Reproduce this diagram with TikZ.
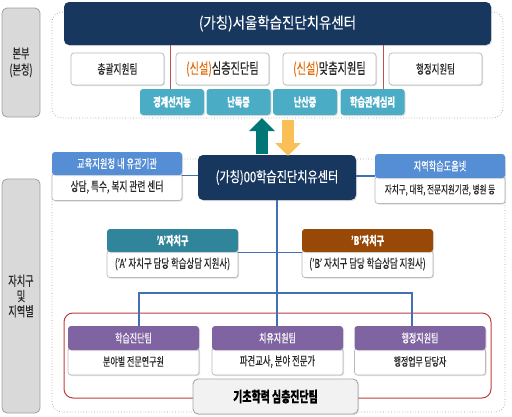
\documentclass[tikz,border=0pt]{standalone}
\usepackage{fontspec}
\setmainfont{Noto Sans CJK KR}[FakeStretch=0.68,FakeBold=0.35]
\newfontfamily\widefont{Noto Sans CJK KR}[FakeStretch=0.86,FakeBold=0.2]
\newfontfamily\midfont{Noto Sans CJK KR}[FakeStretch=0.77,FakeBold=0.3]
\usetikzlibrary{arrows.meta,shadows}
\definecolor{navy}{RGB}{24,55,95}
\definecolor{tealbtn}{RGB}{75,172,198}
\definecolor{hdrblue}{RGB}{85,142,213}
\definecolor{ateal}{RGB}{49,133,155}
\definecolor{bbrown}{RGB}{152,72,7}
\definecolor{purp}{RGB}{128,100,162}
\definecolor{uparr}{RGB}{0,118,118}
\definecolor{yel}{RGB}{250,192,85}
\definecolor{orng}{RGB}{228,108,10}
\definecolor{redln}{RGB}{192,80,77}
\definecolor{redrect}{RGB}{192,60,60}
\definecolor{connblue}{RGB}{65,113,180}
\definecolor{lblfill}{RGB}{217,217,217}
\definecolor{lbldraw}{RGB}{160,160,160}
\definecolor{txt}{RGB}{40,40,40}
\newcommand{\fs}[1]{\fontsize{#1}{#1}\selectfont}
\tikzset{
  shad/.style={drop shadow={opacity=0.25,shadow xshift=1pt,shadow yshift=-1pt}},
  region/.style={draw=gray!75,dotted,line width=0.7pt,rounded corners=10pt},
  lbl/.style={draw=lbldraw,fill=lblfill,rounded corners=5pt,line width=0.8pt,text=txt,align=center,inner sep=0pt},
  navybox/.style={fill=navy,rounded corners=5pt,text=white,inner sep=0pt,shad},
  wbox/.style={draw=gray!55,fill=white,rounded corners=3pt,line width=0.7pt,text=txt,inner sep=0pt,shad},
  btn/.style={fill=tealbtn,rounded corners=3pt,text=white,inner sep=0pt,minimum width=64,minimum height=26,font=\fs{12}\bfseries,shad},
  hdr/.style={fill=#1,rounded corners=3pt,text=white,inner sep=0pt,minimum height=23,shad},
  conn/.style={draw=connblue,line width=1.1pt},
  rline/.style={draw=redln,line width=0.9pt},
}
\begin{document}
\begin{tikzpicture}[x=1pt,y=-1pt]
\useasboundingbox (0,0) rectangle (512,416);
% regions
\draw[region] (52,12) rectangle (503,118);
\draw[region] (52,159) rectangle (505,412);
\draw[draw=redrect,line width=1pt,rounded corners=9pt] (64,313) rectangle (491,398);
% left labels
\node[lbl,minimum width=38,minimum height=109] (hq) at (21,62.5) {\fs{13.5}본부\\[3pt]\fs{13.5}(본청)};
\node[lbl,minimum width=38,minimum height=234] (loc) at (21,296) {\fs{13.5}자치구\\[2pt]\fs{13.5}및\\[2pt]\fs{13.5}지역별};
% top
\node[navybox,minimum width=427,minimum height=43] (top) at (277.5,23.5) {\widefont\fs{15.6}(가칭)서울학습진단치유센터};
\node[wbox,minimum width=93,minimum height=32] (t1) at (117.5,69) {\fs{12.8}총괄지원팀};
\node[wbox,minimum width=93,minimum height=32] (t2) at (222.5,69) {\fs{15}\textcolor{orng}{(신설)}심층진단팀};
\node[wbox,minimum width=93,minimum height=32] (t3) at (329.5,69) {\fs{15}\textcolor{orng}{(신설)}맞춤지원팀};
\node[wbox,minimum width=93,minimum height=32] (t4) at (435.5,69) {\fs{12.4}행정지원팀};
\coordinate (r1a) at (170,45); \coordinate (r1b) at (170,89);
\coordinate (r2a) at (383,45); \coordinate (r2b) at (383,89);
\draw[rline] (r1a) -- (r1b);
\draw[rline] (r2a) -- (r2b);
\node[btn] (b1) at (172,102) {경계선지능};
\node[btn] (b2) at (238.5,102) {난독증};
\node[btn] (b3) at (305,102) {난산증};
\node[btn] (b4) at (372.5,102) {학습관계심리};
% center
\node[navybox,minimum width=158,minimum height=45] (ctr) at (277,177.5) {\midfont\fs{14.5}(가칭)00학습진단치유센터};
\coordinate (upS) at (262,154); \coordinate (upE) at (262,118);
\coordinate (dnS) at (288,120); \coordinate (dnE) at (288,156);
\draw[draw=uparr,line width=12.5pt,-{Triangle[width=25pt,length=13pt]}] (upS) -- (upE);
\draw[draw=yel,line width=12.5pt,-{Triangle[width=25pt,length=13pt]}] (dnS) -- (dnE);
% side boxes
\node[wbox,minimum width=130,minimum height=27] (lw) at (117,187) {\fs{12.8}상담, 특수, 복지 관련 센터};
\node[hdr=hdrblue,minimum width=130] (lh) at (117,163.5) {\fs{12.2}교육지원청 내 유관기관};
\node[wbox,minimum width=130,minimum height=27] (rw) at (440,190) {\fs{11.1}자치구, 대학, 전문지원기관, 병원 등};
\node[hdr=hdrblue,minimum width=130,minimum height=24] (rh) at (440,166) {\fs{12}지역학습도움넷};
\draw[conn] (lh.south east) -- (lh.south east -| ctr.west);
\draw[conn] ([yshift=-10pt]rh.west) -- ([yshift=-10pt]rh.west -| ctr.east);
% districts
\node[wbox,minimum width=131,minimum height=27] (aw) at (172.5,264) {\fs{12.4}('A' 자치구 담당 학습상담 지원사)};
\node[hdr=ateal,minimum width=131] (ah) at (172.5,240.5) {\fs{11.8}\bfseries 'A'자치구};
\node[wbox,minimum width=131,minimum height=27] (bw) at (367.5,264) {\fs{12.4}('B' 자치구 담당 학습상담 지원사)};
\node[hdr=bbrown,minimum width=131] (bh) at (367.5,240.5) {\fs{11.8}\bfseries 'B'자치구};
% teams
\node[wbox,minimum width=131,minimum height=27] (s1w) at (133.5,361.5) {\fs{11.8}분야별 전문연구원};
\node[hdr=purp,minimum width=131,minimum height=24] (s1h) at (133.5,338) {\fs{11.8}학습진단팀};
\node[wbox,minimum width=131,minimum height=27] (s2w) at (277.5,361.5) {\fs{12.3}파견교사, 분야 전문가};
\node[hdr=purp,minimum width=131,minimum height=24] (s2h) at (277.5,338) {\fs{11.8}치유지원팀};
\node[wbox,minimum width=131,minimum height=27] (s3w) at (420,361.5) {\fs{11.6}행정업무 담당자};
\node[hdr=purp,minimum width=131,minimum height=24] (s3h) at (420,338) {\fs{11.8}행정지원팀};
% bus connectors
\coordinate (busL) at (139,293);
\coordinate (busR) at (412,293);
\draw[conn] (ctr.south) -- (ctr.south |- s2h.north);
\draw[conn] (ah.south east) -- (bh.south west);
\draw[conn] (s1h.north -| busL) -- (busL) -- (busR) -- (s3h.north -| busR);
% bottom box
\node[draw=gray!70,fill=black!5,rounded corners=5pt,line width=0.9pt,minimum width=165,minimum height=35,inner sep=0pt,text=black,shad] (base) at (275.5,396.5) {\fs{14.6}\bfseries 기초학력 심층진단팀};
\end{tikzpicture}
\end{document}
